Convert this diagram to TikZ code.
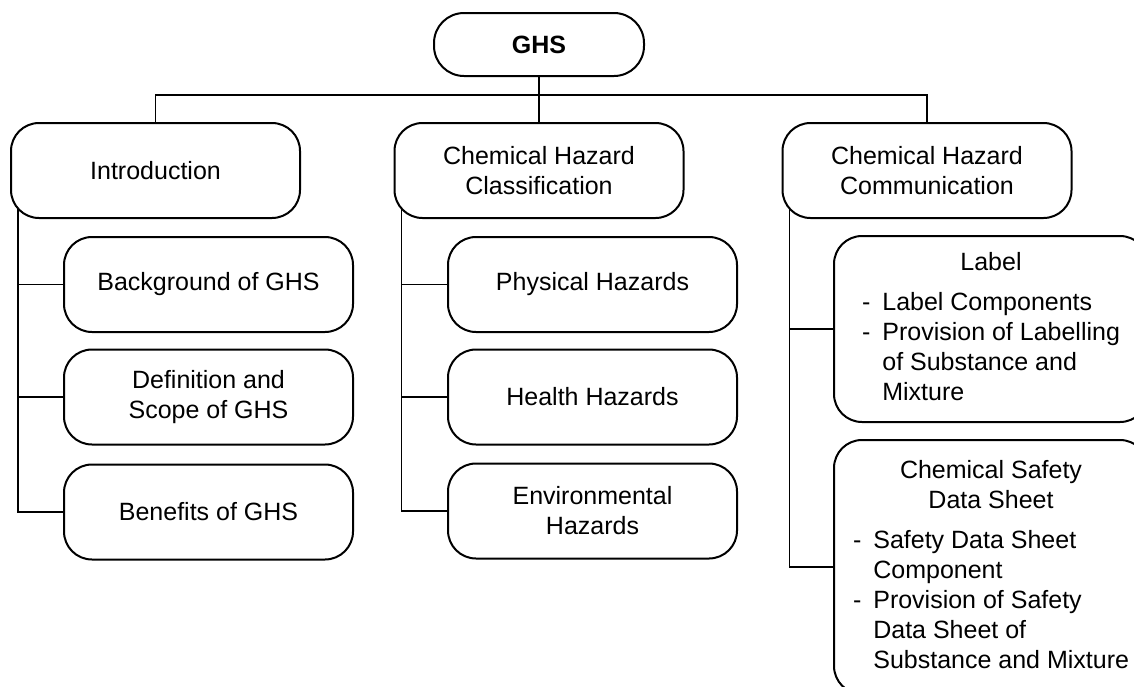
\documentclass[tikz,border=0pt]{standalone}
\usepackage{fontspec}
\setmainfont{Liberation Sans}
\usetikzlibrary{backgrounds}

\begin{document}
\begin{tikzpicture}[x=0.5pt, y=-0.5pt,
        every node/.style={font=\fontsize{12.5}{15}\selectfont},
        box/.style={draw, line width=1pt, fill=white, rounded corners=14pt, align=center,
            minimum width=144.5pt, minimum height=47.5pt},
        listbox/.style={box, minimum width=157pt},
        link/.style={line width=0.8pt}]

        \useasboundingbox (0,0) rectangle (1134,686);
        \clip (0,0) rectangle (1134,686);

        % root
        \node[box, minimum width=105pt, minimum height=31.5pt, rounded corners=15pt,
            font=\fontsize{12.5}{15}\selectfont\bfseries] (ghs) at (539,44.5) {GHS};

        % three topics
        \node[box] (intro) at (155.5,170.5) {Introduction};
        \node[box] (cls) at (539,170.5) {Chemical Hazard\\Classification};
        \node[box] (comm) at (927,170.5) {Chemical Hazard\\Communication};

        \node[box] (bkg) at (208.5,284.5) {Background of GHS};
        \node[box] (dfn) at (208.5,397) {Definition and\\Scope of GHS};
        \node[box] (ben) at (208.5,512) {Benefits of GHS};

        \node[box] (phy) at (592.5,284.5) {Physical Hazards};
        \node[box] (hlth) at (592.5,397) {Health Hazards};
        \node[box] (env) at (592.5,511) {Environmental\\Hazards};

        \node[listbox, minimum height=93pt] (lbl) at (991,329) {%
            \begin{tabular}{@{}l@{\hspace{6pt}}l@{}}
                \multicolumn{2}{c}{Label}\\[5pt]
                - & Label Components\\
                - & Provision of Labelling\\
                  & of Substance and\\
                  & Mixture
            \end{tabular}};
        \node[listbox, minimum height=127pt] (sds) at (991,567) {%
            \begin{tabular}{@{}l@{\hspace{6pt}}l@{}}
                \multicolumn{2}{c}{Chemical Safety}\\
                \multicolumn{2}{c}{Data Sheet}\\[5pt]
                - & Safety Data Sheet\\
                  & Component\\
                - & Provision of Safety\\
                  & Data Sheet of\\
                  & Substance and Mixture
            \end{tabular}};

        \coordinate (bus) at (539,95);
        \coordinate (t1) at ([xshift=4pt]intro.west);
        \coordinate (t2) at ([xshift=4pt]cls.west);
        \coordinate (t3) at ([xshift=4pt]comm.west);

        \begin{scope}[on background layer]
            \draw[link] (ghs) -- (cls);
            \draw[link] (intro) -- (intro |- bus) -- (comm |- bus) -- (comm);
            \draw[link] (t1) |- (bkg.west) (t1) |- (dfn.west) (t1) |- (ben.west);
            \draw[link] (t2) |- (phy.west) (t2) |- (hlth.west) (t2) |- (env.west);
            \draw[link] (t3) |- (lbl.west) (t3) |- (sds.west);
        \end{scope}

    \end{tikzpicture}
\end{document}
